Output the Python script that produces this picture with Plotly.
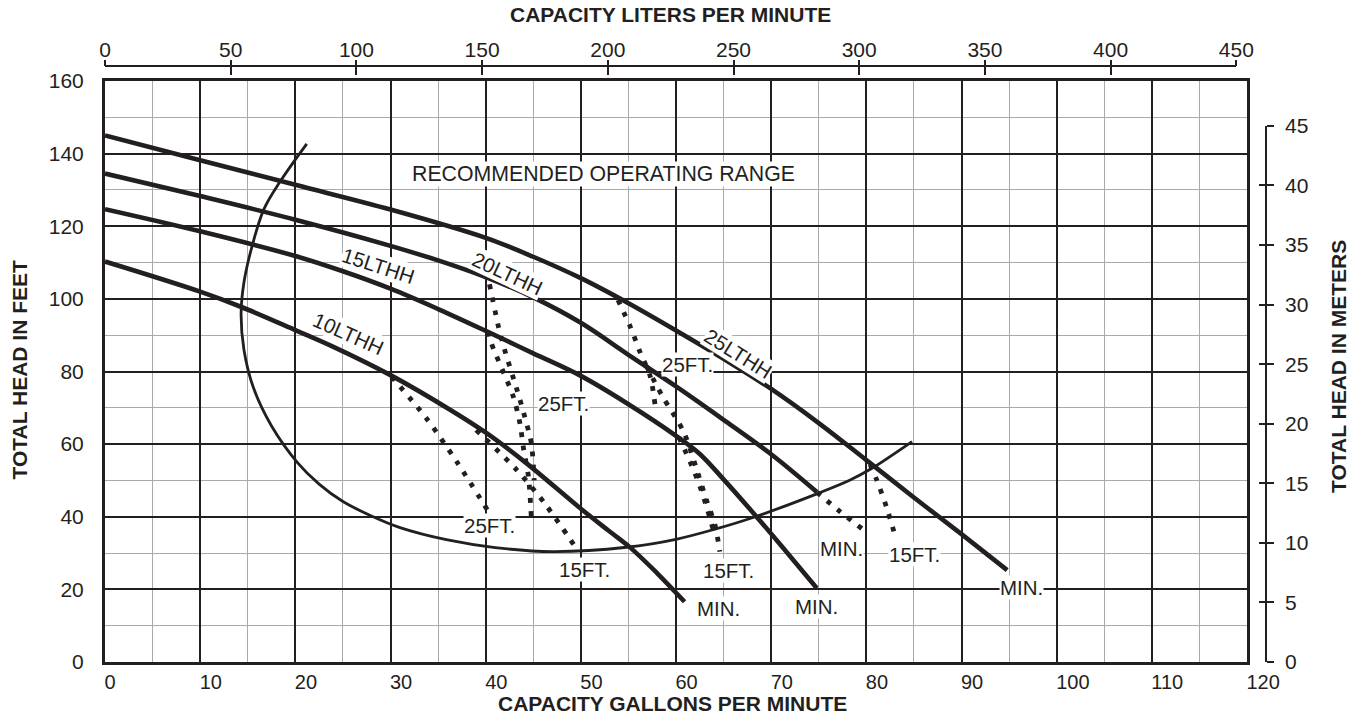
import plotly.graph_objects as go

# ---------------- data ----------------
gpm_ticks = list(range(0, 121, 10))
lpm_ticks = list(range(0, 451, 50))
feet_ticks = list(range(0, 161, 20))
meter_ticks = list(range(0, 46, 5))

GAL_TO_L = 3.785411784
FT_TO_M = 0.3048

# pump curves: capacity (gpm) / total head (ft)
q_25 = [0, 10, 20, 30, 40, 45, 50, 55, 60, 65, 70, 75, 80, 85, 90, 94.8]
h_25 = [145, 138.2, 131.4, 124.6, 116.8, 111.6, 105.7, 98.8, 91.3, 83.5, 75.2, 65.8, 55.6, 45.3, 35.2, 25.3]

q_20 = [0, 10, 20, 30, 35, 40, 45, 50, 55, 60, 65, 70, 74.8]
h_20 = [134.5, 128.3, 121.8, 114.6, 110.6, 106.0, 100.4, 93.4, 84.6, 75.9, 66.7, 57.2, 46.8]

q_15 = [0, 10, 20, 25, 30, 35, 40, 45, 50, 55, 60, 62.5, 65, 68.3, 71, 74.8]
h_15 = [124.7, 118.6, 111.8, 107.6, 102.8, 97.2, 91.2, 85.0, 78.8, 71.0, 62.3, 57.3, 50.3, 40.5, 32.2, 20.3]

q_10 = [0, 10, 14.2, 20, 24, 30, 36.3, 40.1, 44.3, 50, 53, 55.2, 58, 60.9]
h_10 = [110.3, 102, 97.9, 91.4, 86.8, 79, 69.4, 63, 54.7, 42.2, 36, 31.5, 24.5, 16.6]

# dotted suction-lift / minimum branches
q_10_25ft = [30.1, 33.8, 37, 40.3]
h_10_25ft = [78.6, 67, 55, 41.4]
q_10_15ft = [39.0, 43.3, 46.2, 49.6]
h_10_15ft = [63.9, 52.8, 43.7, 31.0]
q_20_25ft = [40.4, 41.0, 41.3, 42.0, 43.3, 44.1, 44.8, 45.1]
h_20_25ft = [104.0, 96.5, 92.8, 85.9, 74.9, 67.6, 60.2, 50]
q_15_25ft = [40.3, 40.6, 42.9, 43.6, 44.0, 44.5, 44.8]
h_15_25ft = [91.0, 87.8, 73.1, 65.7, 58.4, 51.0, 39.6]
q_25_25ft = [53.9, 55.2, 56.2, 57.3, 57.8]
h_25_25ft = [99.7, 92.3, 85.5, 78.6, 70.8]
q_20_15ft = [56.9, 58.5, 60.8, 62.3, 63.2, 64.1, 64.6]
h_20_15ft = [81.5, 73.5, 63.4, 52, 44.6, 37.7, 30.4]
q_15_15ft = [60.3, 61.5, 62.5, 63.3, 63.9]
h_15_15ft = [61.9, 55, 48.5, 42, 36.5]
q_20_min = [74.8, 77.2, 79.7]
h_20_min = [46.8, 41.5, 36.4]
q_25_15ft = [80.4, 81.1, 82.1, 83.0]
h_25_15ft = [54.4, 50.1, 42.8, 35.0]

# recommended operating range boundary
q_range = [21.2, 18.4, 16.7, 15.4, 14.6, 14.3, 14.6, 15.6, 17.5, 20.2, 22.5, 25, 28, 31, 36, 41, 47,
           54.8, 60, 64, 68.1, 74.8, 78.3, 80.5, 84.8]
h_range = [142.7, 132.3, 124.7, 114, 104.5, 96, 86, 75.5, 65, 55, 49, 44.2, 40.2, 37, 33.6, 31.5, 30.4,
           31.6, 33.8, 36.5, 39.8, 46.3, 50.1, 53.2, 60.7]

# ---------------- style ----------------
FONT = "Liberation Sans, Arial, Helvetica, sans-serif"
INK = "#231f20"
MINOR = "#a7a9ac"

fig = go.Figure()

def solid(q, h, w=4.6):
    fig.add_trace(go.Scatter(x=q, y=h, mode="lines", line=dict(color=INK, width=w, shape="spline", smoothing=1.0),
                             hoverinfo="skip", showlegend=False))

def dotted(q, h):
    fig.add_trace(go.Scatter(x=q, y=h, mode="lines",
                             line=dict(color=INK, width=4.8, dash="4.8px,8.5px", shape="spline", smoothing=0.8),
                             hoverinfo="skip", showlegend=False))

solid(q_range, h_range, w=2.8)
for q, h in [(q_10_25ft, h_10_25ft), (q_10_15ft, h_10_15ft), (q_20_25ft, h_20_25ft), (q_15_25ft, h_15_25ft),
             (q_25_25ft, h_25_25ft), (q_20_15ft, h_20_15ft), (q_15_15ft, h_15_15ft), (q_20_min, h_20_min),
             (q_25_15ft, h_25_15ft)]:
    dotted(q, h)
for q, h in [(q_25, h_25), (q_20, h_20), (q_15, h_15), (q_10, h_10)]:
    solid(q, h)

# anchor traces for the secondary (liters / meters) scales
for xa, ya in [("x2", "y2"), ("x3", "y3"), ("x4", "y2")]:
    fig.add_trace(go.Scatter(x=[lpm_ticks[0], lpm_ticks[-1]], y=[meter_ticks[0], meter_ticks[-1]], xaxis=xa, yaxis=ya,
                             mode="lines", line=dict(width=0), opacity=0, hoverinfo="skip", showlegend=False))

# ---------------- layout ----------------
W, H = 1363, 714
ml, mr, mt, mb = 105, 97, 66, 52
pw = W - ml - mr
ph = H - mt - mb
x_dom = (1247 - ml) / pw
y_dom = (662 - 81) / ph
gpm_max = gpm_ticks[-1]
ft_max = feet_ticks[-1]
x2_dom = x_dom * lpm_ticks[-1] / (gpm_max * GAL_TO_L)
y2_dom = y_dom * meter_ticks[-1] / (ft_max * FT_TO_M)

font20 = dict(family=FONT, size=20, color=INK)
font21 = dict(family=FONT, size=21, color=INK)

top_common = dict(domain=[0, x2_dom], range=[0, lpm_ticks[-1]], tickvals=lpm_ticks, anchor="free", position=1,
                  side="top", showgrid=False, zeroline=False, tickwidth=1.6, tickcolor=INK)
right_common = dict(domain=[0, y2_dom], range=[0, meter_ticks[-1]], tickvals=meter_ticks, anchor="free", position=1,
                    side="right", showgrid=False, zeroline=False, tickwidth=1.6, tickcolor=INK)

fig.update_layout(
    width=W, height=H,
    margin=dict(l=ml, r=mr, t=mt, b=mb, pad=0),
    paper_bgcolor="white", plot_bgcolor="rgba(0,0,0,0)",
    font=font20,
    xaxis=dict(domain=[0, x_dom], range=[0, gpm_max], tickvals=gpm_ticks, ticks="", showline=True, mirror=True,
               linecolor=INK, linewidth=3, showgrid=True, gridcolor=INK, gridwidth=1.7, zeroline=False,
               ticklabelposition="outside right", ticklabelshift=-2, tickfont=font20,
               minor=dict(dtick=5, tick0=0, showgrid=True, gridcolor=MINOR, gridwidth=1.3)),
    yaxis=dict(domain=[0, y_dom], range=[0, ft_max], tickvals=feet_ticks, ticks="", showline=True, mirror=True,
               linecolor=INK, linewidth=3, showgrid=True, gridcolor=INK, gridwidth=1.7, zeroline=False,
               tickfont=font21, ticklabelstandoff=14,
               minor=dict(dtick=10, tick0=0, showgrid=True, gridcolor=MINOR, gridwidth=1.3)),
    xaxis2=dict(**top_common, showline=True, linecolor=INK, linewidth=1.6, ticks="", tickfont=font21),
    xaxis3=dict(**top_common, showline=False, ticks="outside", ticklen=6, showticklabels=False),
    xaxis4=dict(**top_common, showline=False, ticks="inside", ticklen=8, showticklabels=False),
    yaxis2=dict(**right_common, showline=True, linecolor=INK, linewidth=1.6, ticks="outside", ticklen=7,
                tickfont=font21, ticklabelstandoff=7),
    yaxis3=dict(**right_common, showline=False, ticks="inside", ticklen=7, showticklabels=False),
)

def px_x(px):
    return (px - ml) / pw

def px_y(py):
    return (H - mb - py) / ph

bold = dict(family=FONT, size=21, color=INK)
titles = [
    ("<b>CAPACITY LITERS PER MINUTE</b>", 670.5, 14, 0),
    ("<b>CAPACITY GALLONS PER MINUTE</b>", 672, 703, 0),
    ("<b>TOTAL HEAD IN FEET</b>", 19.5, 370, -90),
    ("<b>TOTAL HEAD IN METERS</b>", 1338, 367, -90),
]
for txt, x, y, ang in titles:
    fig.add_annotation(text=txt, x=px_x(x), y=px_y(y), xref="paper", yref="paper", showarrow=False,
                       xanchor="center", yanchor="middle", textangle=ang, font=bold)

labels = [
    ("RECOMMENDED OPERATING RANGE", 52.4, 134.3, 0, 21.3),
    ("10LTHH", 25.55, 90.4, 24, 20.5),
    ("15LTHH", 28.7, 109.2, 18, 20.5),
    ("20LTHH", 42.3, 106.9, 25, 20.5),
    ("25LTHH", 66.55, 85.0, 32, 20.5),
    ("25FT.", 40.4, 37.6, 0, 20.5),
    ("25FT.", 48.2, 71.2, 0, 20.5),
    ("25FT.", 61.2, 81.8, 0, 20.5),
    ("15FT.", 50.4, 25.6, 0, 20.5),
    ("15FT.", 65.5, 25.1, 0, 20.5),
    ("15FT.", 85.1, 29.7, 0, 20.5),
    ("MIN.", 64.5, 14.6, 0, 20.5),
    ("MIN.", 74.8, 15.4, 0, 20.5),
    ("MIN.", 77.4, 31.3, 0, 20.5),
    ("MIN.", 96.3, 20.5, 0, 20.5),
]
for txt, x, y, ang, fs in labels:
    fig.add_annotation(text=txt, x=x, y=y, xref="x", yref="y", showarrow=False, xanchor="center",
                       yanchor="middle", textangle=ang, bgcolor="white", borderpad=0,
                       font=dict(family=FONT, size=fs, color=INK))

fig.write_html("out.html", config={"displayModeBar": False},
               post_script="document.body.style.margin='0';document.body.style.overflow='hidden';")
